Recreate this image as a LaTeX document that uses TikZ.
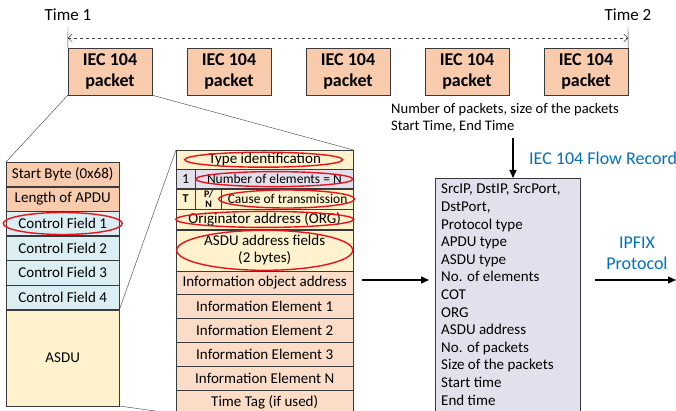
\documentclass[tikz,border=0pt]{standalone}
\usepackage{fontspec}
\setmainfont{Carlito}
\usepackage{tikz}
\usetikzlibrary{arrows.meta}
\usetikzlibrary{positioning, calc}
\definecolor{pktpeach}{HTML}{F8CBAD}
\definecolor{infopeach}{HTML}{FBDCC7}
\definecolor{cfblue}{HTML}{DAEEF3}
\definecolor{asduyellow}{HTML}{FFF2CC}
\definecolor{lav}{HTML}{E4DFEC}
\definecolor{flowblue}{HTML}{0070C0}
\definecolor{ringred}{HTML}{E8141B}
\definecolor{edge}{HTML}{3A3A3A}

\tikzset{
  packet/.style={draw=edge, fill=pktpeach, minimum width=84pt, minimum height=47pt,
    inner sep=0pt, align=center, font=\fontsize{18}{21}\selectfont\bfseries},
  lrow/.style={draw=edge, minimum width=113pt, minimum height=24.2pt, inner sep=0pt,
    font=\fontsize{15}{17}\selectfont},
  mrow/.style={draw=edge, minimum width=177pt, inner sep=0pt,
    font=\fontsize{15}{17}\selectfont},
  cell/.style={draw=edge, inner sep=0pt, anchor=north west, font=\fontsize{10}{10}\selectfont\bfseries},
  ring/.style={draw=ringred, line width=1.4pt},
  flowarrow/.style={line width=1.3pt, -{Triangle[length=8pt, width=7pt]}},
  bluetext/.style={text=flowblue, font=\fontsize{18}{21}\selectfont}
}

\begin{document}
\begin{tikzpicture}[x=1pt, y=-1pt]
  \clip (0,0) rectangle (676,411);

  % Packets in the time window
  \foreach \i/\xx in {1/110,2/229,3/348,4/467,5/586}
    \node[packet] (p\i) at (\xx,71.5) {IEC 104\\packet};

  % Time marks
  \node[font=\fontsize{17}{19}\selectfont] (time1) at (68,15) {Time 1};
  \node[font=\fontsize{17}{19}\selectfont] (time2) at (628,15) {Time 2};
  \draw[edge] (68,27) -- (p1.north west);
  \draw[edge] (628,27) -- (p5.north east);
  \draw[edge, dashed, {Straight Barb[length=4pt]}-{Straight Barb[length=4pt]}] (68,38) -- (628,38);

  % APDU
  \node[lrow, fill=pktpeach, anchor=north west] (sb) at (6,162) {Start Byte (0x68)};
  \node[lrow, fill=pktpeach, below=0pt of sb] (len) {Length of APDU};
  \node[lrow, fill=cfblue, below=0pt of len] (cf1) {Control Field 1};
  \node[lrow, fill=cfblue, below=0pt of cf1] (cf2) {Control Field 2};
  \node[lrow, fill=cfblue, below=0pt of cf2] (cf3) {Control Field 3};
  \node[lrow, fill=cfblue, below=0pt of cf3] (cf4) {Control Field 4};
  \node[lrow, fill=asduyellow, minimum height=96pt, below=0pt of cf4] (asdu) {ASDU};

  % ASDU
  \node[mrow, fill=asduyellow, minimum height=19pt, anchor=north west] (tid) at (176,150) {Type identification};
  \node[mrow, fill=lav, minimum height=19pt, below=0pt of tid] (noe) {};
  \node[mrow, fill=asduyellow, minimum height=20pt, below=0pt of noe] (cot) {};
  \node[mrow, fill=asduyellow, minimum height=20pt, below=0pt of cot] (org) {Originator address (ORG)};
  \node[mrow, fill=asduyellow, minimum height=41pt, align=center, below=0pt of org] (addr) {ASDU address fields\\(2 bytes)};
  \node[mrow, fill=infopeach, minimum height=23pt, below=0pt of addr] (ioa) {Information object address};
  \node[mrow, fill=infopeach, minimum height=23.5pt, below=0pt of ioa] (ie1) {Information Element 1};
  \node[mrow, fill=infopeach, minimum height=23.5pt, below=0pt of ie1] (ie2) {Information Element 2};
  \node[mrow, fill=infopeach, minimum height=23.5pt, below=0pt of ie2] (ie3) {Information Element 3};
  \node[mrow, fill=infopeach, minimum height=23.5pt, below=0pt of ie3] (ien) {Information Element N};
  \node[mrow, fill=infopeach, minimum height=23.5pt, below=0pt of ien] (tt) {Time Tag (if used)};

  % small cells
  \node[cell, minimum width=19pt, minimum height=19pt, font=\fontsize{14}{16}\selectfont] (one) at (noe.north west) {1};
  \node[font=\fontsize{13.5}{15}\selectfont] (noetext) at ($(one.east)!0.5!(noe.east)$) {Number of elements = N};
  \node[cell, minimum width=19pt, minimum height=20pt, font=\fontsize{12}{14}\selectfont\bfseries] (tbit) at (cot.north west) {T};
  \node[cell, minimum width=26pt, minimum height=20pt, align=center] (pnbit) at (tbit.north east) {P/\\N};
  \node[font=\fontsize{13.5}{15}\selectfont] (cottext) at ($(pnbit.east)!0.5!(cot.east)$) {Cause of transmission};

  % zoom lines
  \draw[edge] (p1.south west) -- (sb.north west);
  \draw[edge] (p1.south east) -- (tid.north east);
  \draw[edge] (cf4.south east) -- (tid.north west);
  \draw[edge] (asdu.south east) -- (tt.south west);

  % Highlighted fields
  \draw[ring] (cf1.center) ellipse [x radius=59.5pt, y radius=11pt];
  \draw[ring] ($(tid.center)+(-1,0)$) ellipse [x radius=79pt, y radius=7.5pt];
  \draw[ring] (noetext.center) ellipse [x radius=78.5pt, y radius=7.5pt];
  \draw[ring] ($(cottext.center)+(-1,0)$) ellipse [x radius=68pt, y radius=9pt];
  \draw[ring] (org.center) ellipse [x radius=89pt, y radius=8pt];
  \draw[ring] (addr.center) ellipse [x radius=88pt, y radius=20pt];

  % Flow record
  \node[draw=edge, fill=lav, anchor=north west, minimum width=145pt, minimum height=250pt] (flow) at (435,178) {};
  \node[anchor=north west, align=left, inner sep=0pt, font=\fontsize{15}{17.6}\selectfont] (fields) at (441,184)
    {SrcIP, DstIP, SrcPort,\\DstPort,\\Protocol type\\APDU type\\ASDU type\\No. of elements\\COT\\ORG\\ASDU address\\No. of packets\\Size of the packets\\Start time\\End time};
  \node[anchor=north west, align=left, inner sep=0pt, font=\fontsize{14.6}{17}\selectfont] (stats) at (391,103)
    {Number of packets, size of the packets\\Start Time, End Time};
  \node[bluetext, anchor=west, inner sep=0pt] (flowlabel) at (529,158) {IEC 104 Flow Record};
  \coordinate (statsend) at (513,138);
  \draw[flowarrow] (statsend) -- (statsend |- flow.north);

  % Export
  \coordinate (asduout) at (362,280);
  \coordinate (flowin) at ($(asduout -| flow.west)+(-6,0)$);
  \draw[flowarrow] (asduout) -- (flowin);
  \node[bluetext, align=center] (ipfix) at (637,253) {IPFIX\\Protocol};
  \coordinate (exportin) at (595,280);
  \coordinate (exportout) at (676,280);
  \draw[flowarrow] (exportin) -- (exportout);
\end{tikzpicture}
\end{document}
